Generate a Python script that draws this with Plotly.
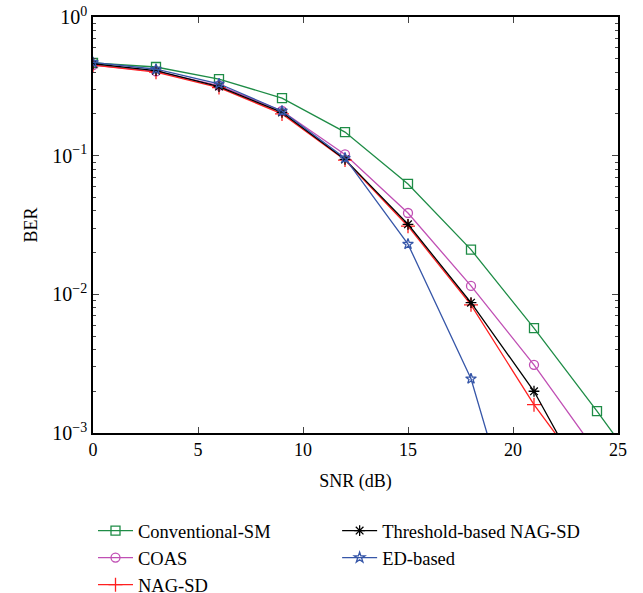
import plotly.graph_objects as go

snr = [0, 3, 6, 9, 12, 15, 18, 21, 24, 27]

ber_conv = [0.466, 0.436, 0.357, 0.26, 0.148, 0.0625, 0.021, 0.0057, 0.00144, 0.00034]
ber_coas = [0.45, 0.405, 0.32, 0.21, 0.102, 0.0386, 0.0115, 0.0031, 0.00072]
ber_nag = [0.45, 0.40, 0.31, 0.20, 0.093, 0.031, 0.0084, 0.0016, 0.00039]
ber_thr = [0.46, 0.41, 0.315, 0.205, 0.094, 0.032, 0.0087, 0.0020, 0.00030]
ber_ed = [0.47, 0.42, 0.33, 0.21, 0.096, 0.023, 0.00246, 0.00007]

font_family = "Liberation Serif"

series = [
    # name, x, y, colour, marker symbol, marker size, legend
    ("Conventional-SM", snr, ber_conv, "#1e8c46", "square-open", 9, "legend"),
    ("COAS", snr[:9], ber_coas, "#c04fb4", "circle-open", 9, "legend"),
    ("NAG-SD", snr[:9], ber_nag, "#ff2020", "cross-thin-open", 10, "legend"),
    ("Threshold-based NAG-SD", snr[:9], ber_thr, "#000000", "asterisk-open", 9, "legend2"),
    ("ED-based", snr[:8], ber_ed, "#3656a8", "star-open", 8, "legend2"),
]

fig = go.Figure()
for name, x, y, col, sym, size, leg in series:
    fig.add_trace(go.Scatter(
        x=x, y=y, name=name, mode="lines+markers",
        line=dict(color=col, width=1.3),
        marker=dict(symbol=sym, size=size, color=col, line=dict(color=col, width=1.3)),
        legend=leg,
        cliponaxis=True,
    ))

legend_style = dict(
    orientation="v", y=-0.19, xanchor="left", yanchor="top",
    font=dict(size=18.5), tracegroupgap=0, itemwidth=35,
    bgcolor="rgba(0,0,0,0)",
)

fig.update_layout(
    width=643, height=593,
    margin=dict(l=93, r=25, t=17, b=160, autoexpand=False),
    plot_bgcolor="white", paper_bgcolor="white",
    font=dict(family=font_family, size=17, color="black"),
    showlegend=True,
    legend=dict(x=0.0, **legend_style),
    legend2=dict(x=0.465, **legend_style),
)

fig.update_xaxes(
    range=[0, 25], tickvals=[0, 5, 10, 15, 20, 25],
    ticks="inside", ticklen=6, tickwidth=1, showline=True, linewidth=1.5, linecolor="black",
    mirror="ticks", showgrid=False, zeroline=False,
    tickfont=dict(size=18), ticklabeloverflow="allow",
    title=dict(text="SNR (dB)", standoff=15, font=dict(size=18)),
)
fig.update_yaxes(
    type="log", range=[-3, 0],
    tickvals=[1e-3, 1e-2, 1e-1, 1],
    ticktext=["10<sup>\u22123</sup>", "10<sup>\u22122</sup>", "10<sup>\u22121</sup>", "10<sup>0</sup>"],
    ticks="inside", ticklen=6, tickwidth=1, showline=True, linewidth=1.5, linecolor="black",
    mirror="ticks", showgrid=False, zeroline=False,
    tickfont=dict(size=20), ticklabeloverflow="allow",
    minor=dict(ticks="inside", ticklen=3, tickvals=[m * 10 ** e for e in (-3, -2, -1) for m in range(2, 10)]),
    title=dict(text="BER", standoff=10, font=dict(size=18)),
)

# drop the default body margin so the figure sits at the page origin
fig.write_html("out.html", config={"displayModeBar": False},
               post_script="document.body.style.margin='0';")
